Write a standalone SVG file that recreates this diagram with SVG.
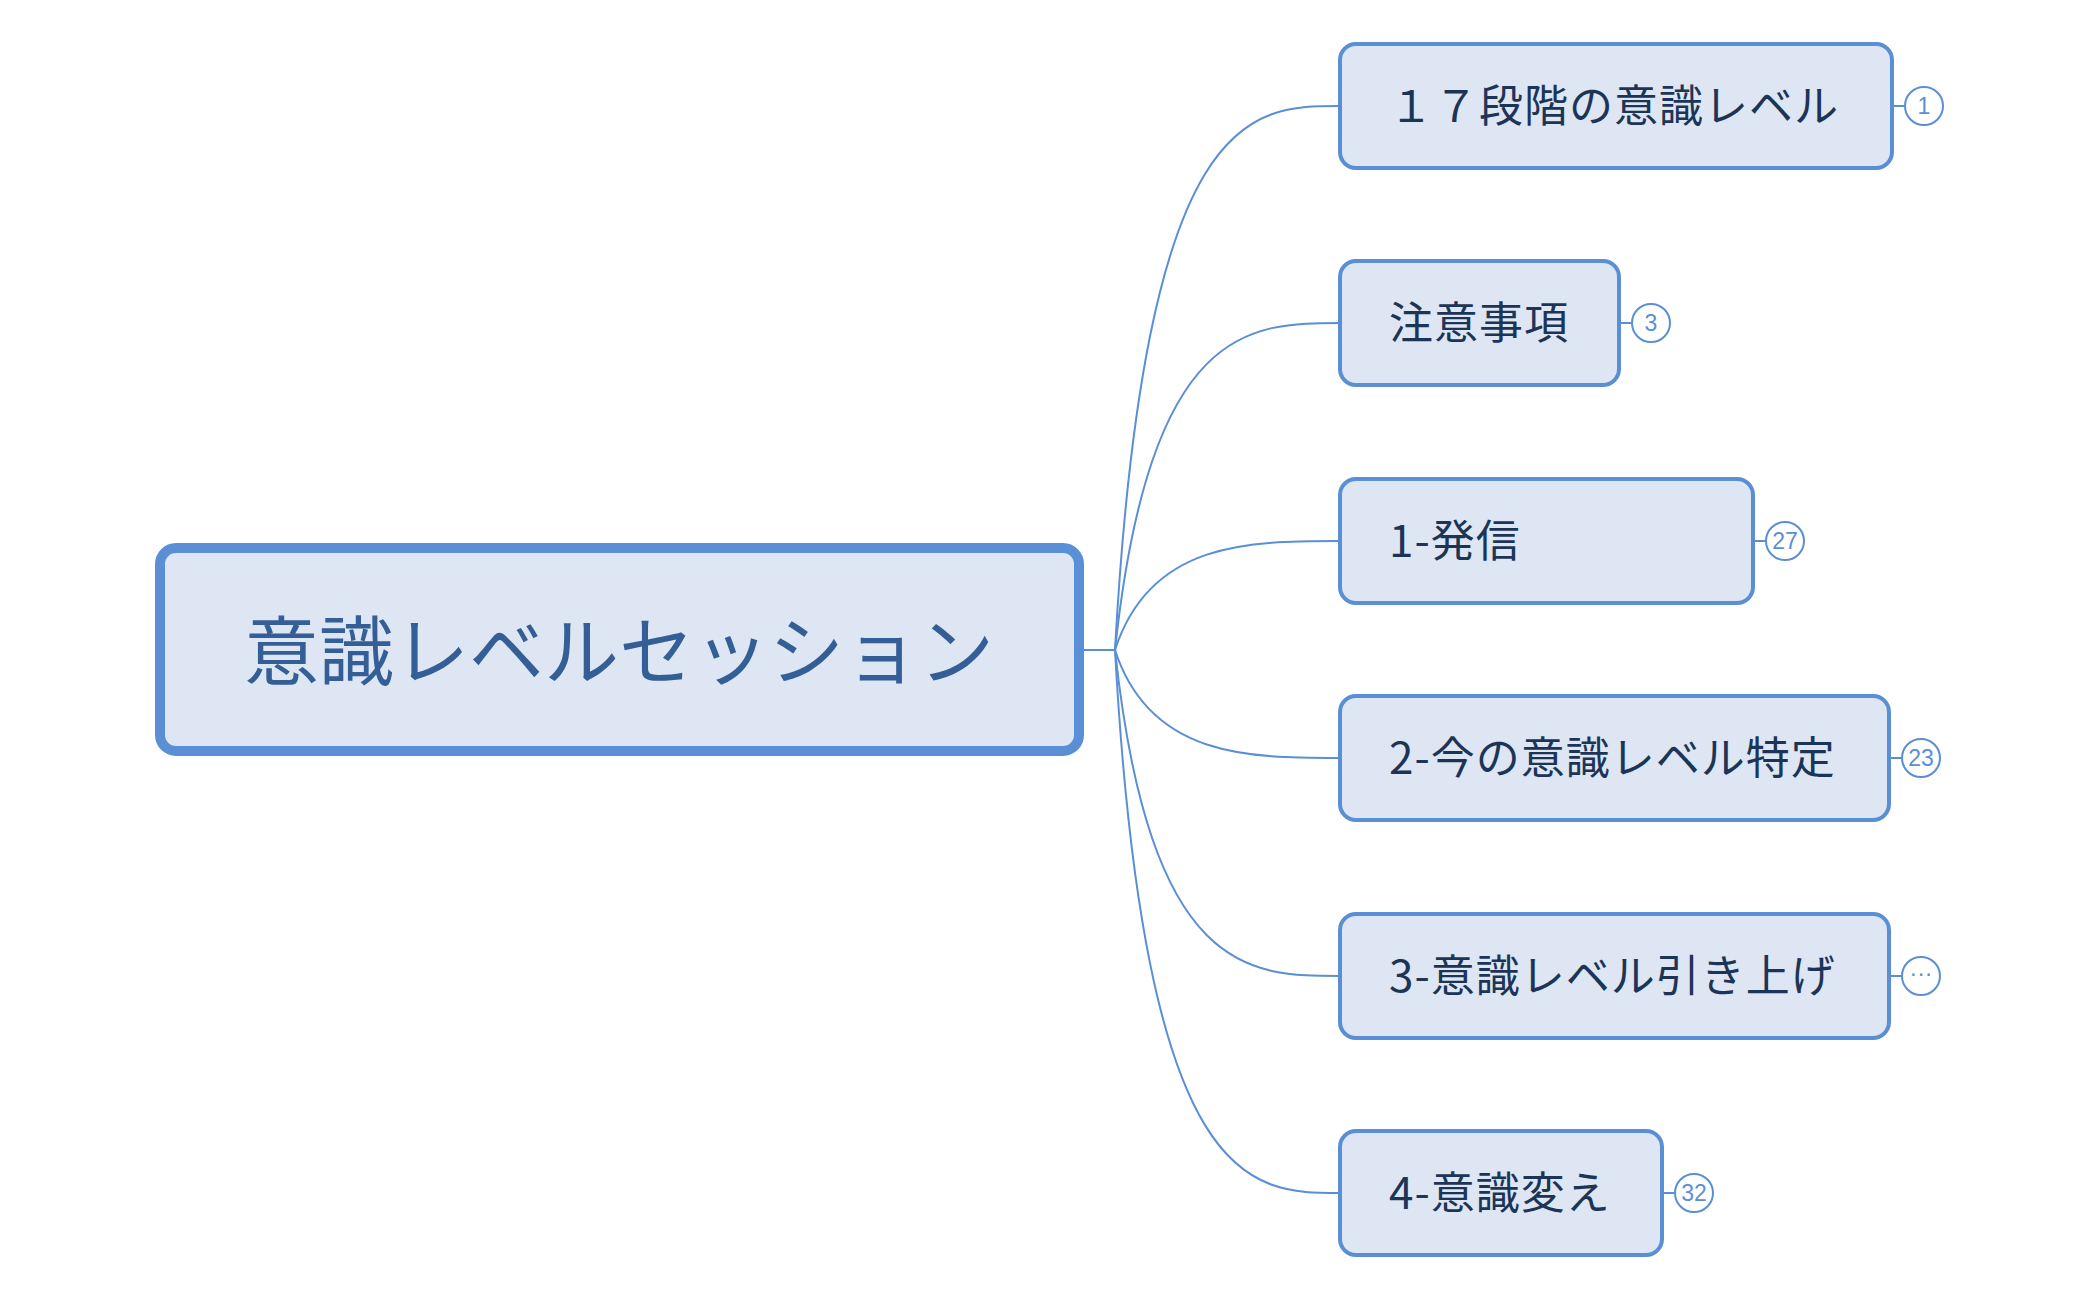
<svg xmlns="http://www.w3.org/2000/svg" width="2099" height="1300" viewBox="0 0 2099 1300">
<style>
.c{fill:none;stroke:#5a8fd6;stroke-width:2}
.n{fill:#dde6f2;stroke:#5a8fd6;stroke-width:4}
.t{font-family:"Noto Sans CJK JP","Noto Sans",sans-serif;font-size:44px;fill:#1c3557;dominant-baseline:central;letter-spacing:1px}
.b{fill:#fff;stroke:#5a8fd6;stroke-width:2}
.bt{font-family:"Liberation Sans",sans-serif;font-size:23px;fill:#5a8fd6;text-anchor:middle;dominant-baseline:central}
</style>
<rect width="2099" height="1300" fill="#fff"/>
<g id="connectors">
<path class="c" d="M1081 650 H1115"/>
<path class="c" d="M1115 650 C1145 106,1250 106,1340 106"/>
<path class="c" d="M1115 650 C1150 323,1250 323,1340 323"/>
<path class="c" d="M1115 650 C1150 541,1250 541,1340 541"/>
<path class="c" d="M1115 650 C1150 758,1250 758,1340 758"/>
<path class="c" d="M1115 650 C1150 976,1250 976,1340 976"/>
<path class="c" d="M1115 650 C1145 1193,1250 1193,1340 1193"/>
</g>
<g id="root">
<rect x="160" y="548" width="919" height="203" rx="16" fill="#dde6f2" stroke="#5a8fd6" stroke-width="10"/>
<text x="619" y="646" font-family="'Noto Sans CJK JP',sans-serif" font-size="75" fill="#335f96" text-anchor="middle" dominant-baseline="central">意識レベルセッション</text>
</g>
<g id="n1"><rect class="n" x="1340" y="44" width="552" height="124" rx="16"/><text class="t" x="1389" y="103">１７段階の意識レベル</text>
<path class="c" d="M1892 106 H1905"/><circle class="b" cx="1924" cy="106" r="19"/><text class="bt" x="1924" y="106">1</text></g>
<g id="n2"><rect class="n" x="1340" y="261" width="279" height="124" rx="16"/><text class="t" x="1389" y="320">注意事項</text>
<path class="c" d="M1619 323 H1632"/><circle class="b" cx="1651" cy="323" r="19"/><text class="bt" x="1651" y="323">3</text></g>
<g id="n3"><rect class="n" x="1340" y="479" width="413" height="124" rx="16"/><text class="t" x="1389" y="538">1-発信</text>
<path class="c" d="M1753 541 H1766"/><circle class="b" cx="1785" cy="541" r="19"/><text class="bt" x="1785" y="541">27</text></g>
<g id="n4"><rect class="n" x="1340" y="696" width="549" height="124" rx="16"/><text class="t" x="1389" y="755">2-今の意識レベル特定</text>
<path class="c" d="M1889 758 H1902"/><circle class="b" cx="1921" cy="758" r="19"/><text class="bt" x="1921" y="758">23</text></g>
<g id="n5"><rect class="n" x="1340" y="914" width="549" height="124" rx="16"/><text class="t" x="1389" y="973">3-意識レベル引き上げ</text>
<path class="c" d="M1889 976 H1902"/><circle class="b" cx="1921" cy="976" r="19"/><text class="bt" x="1921" y="973">···</text></g>
<g id="n6"><rect class="n" x="1340" y="1131" width="322" height="124" rx="16"/><text class="t" x="1389" y="1190">4-意識変え</text>
<path class="c" d="M1662 1193 H1675"/><circle class="b" cx="1694" cy="1193" r="19"/><text class="bt" x="1694" y="1193">32</text></g>
</svg>
